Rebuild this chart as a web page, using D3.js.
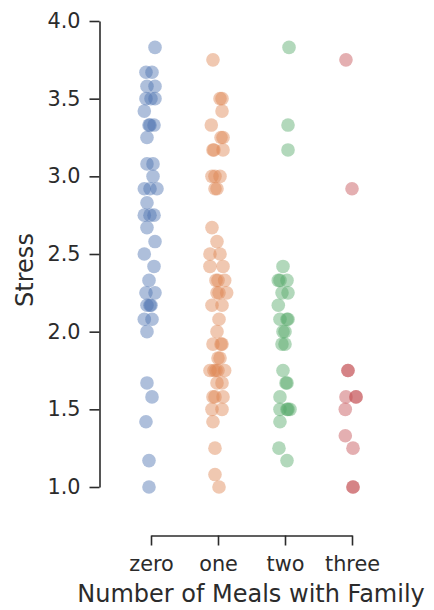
<!DOCTYPE html>
<html>
<head>
<meta charset="utf-8">
<script src="https://cdn.jsdelivr.net/npm/d3@7"></script>
<style>
  html, body { margin: 0; padding: 0; background: #fff; }
  svg { display: block; }
</style>
</head>
<body>
<svg id="chart" width="434" height="610"></svg>
<script>
// Categories and tick labels
const categories = ["zero", "one", "two", "three"];
const yTicks = [1.0, 1.5, 2.0, 2.5, 3.0, 3.5, 4.0];

// Stress scores per category, with the strip jitter (in category units)
const zeroStress = [3.83, 3.67, 3.67, 3.58, 3.58, 3.5, 3.5, 3.5, 3.42, 3.33, 3.33, 3.33, 3.25,
  3.08, 3.08, 3.0, 2.92, 2.92, 2.92, 2.83, 2.75, 2.75, 2.75, 2.67, 2.58, 2.5, 2.42,
  2.33, 2.25, 2.25, 2.17, 2.17, 2.17, 2.08, 2.08, 2.0, 1.67, 1.58, 1.42, 1.17, 1.0];
const zeroJitter = [0.06, -0.075, 0.015, -0.06, 0.06, -0.075, 0, 0.06, -0.10, -0.015, 0.045, -0.03, -0.06,
  -0.06, 0.03, 0.03, -0.10, -0.015, 0.09, -0.06, -0.10, -0.015, 0.045, -0.06, 0.06, -0.10, 0.045,
  -0.03, -0.075, 0.06, -0.06, 0, -0.015, -0.10, 0.015, -0.06, -0.06, 0.015, -0.075, -0.03, -0.03];

const oneStress = [3.75, 3.5, 3.5, 3.42, 3.33, 3.25, 3.25, 3.17, 3.17, 3.17, 3.0, 3.0, 3.0, 2.92, 2.92,
  2.67, 2.58, 2.5, 2.5, 2.42, 2.42, 2.33, 2.33, 2.33, 2.25, 2.25, 2.25, 2.17, 2.17, 2.08, 2.0,
  1.92, 1.92, 1.92, 1.83, 1.83, 1.75, 1.75, 1.75, 1.75, 1.75, 1.67, 1.67, 1.58, 1.58, 1.58,
  1.5, 1.5, 1.42, 1.25, 1.08, 1.0];
const oneJitter = [-0.075, 0.03, 0.06, 0.06, -0.10, 0.045, 0.075, -0.075, -0.06, 0.075, -0.09, 0.03, -0.045, -0.015, -0.045,
  -0.09, -0.015, -0.12, 0.03, -0.12, 0.075, -0.03, 0, 0.10, -0.015, 0.015, 0.13, -0.09, 0.06, 0.015, -0.015,
  -0.075, 0.06, 0.045, 0.03, 0, -0.12, 0, 0.10, -0.06, -0.03, -0.015, 0.06, -0.075, 0.075, -0.045,
  -0.09, 0.06, -0.075, -0.045, -0.045, 0.015];

const twoStress = [3.83, 3.33, 3.17, 2.42, 2.33, 2.33, 2.33, 2.25, 2.25, 2.17, 2.08, 2.08, 2.08, 2.0, 2.0,
  1.92, 1.92, 1.75, 1.67, 1.67, 1.58, 1.5, 1.5, 1.5, 1.5, 1.42, 1.25, 1.17];
const twoJitter = [0.06, 0.045, 0.045, -0.03, -0.10, 0.03, -0.075, -0.045, 0.045, -0.10, 0.03, -0.075, 0.045, 0, -0.03,
  -0.045, 0, -0.03, 0.03, 0.015, -0.075, -0.075, 0.045, 0.075, 0.03, -0.075, -0.09, 0.03];

const threeStress = [3.75, 2.92, 1.75, 1.75, 1.58, 1.58, 1.58, 1.5, 1.33, 1.25, 1.0, 1.0];
const threeJitter = [-0.09, 0, -0.06, -0.06, -0.09, 0.06, 0.06, -0.10, -0.10, 0.015, 0.015, 0.015];

const palette = ["#4c72b0", "#dd8452", "#55a868", "#c44e52"];

const series = [
  { cat: "zero", stress: zeroStress, jitter: zeroJitter },
  { cat: "one", stress: oneStress, jitter: oneJitter },
  { cat: "two", stress: twoStress, jitter: twoJitter },
  { cat: "three", stress: threeStress, jitter: threeJitter }
];

const points = series.flatMap((s, i) =>
  s.stress.map((v, j) => ({ cat: s.cat, value: v, jitter: s.jitter[j], color: palette[i] })));

const svg = d3.select("#chart");
const ink = "#2b2b2b";
const font = "'DejaVu Sans', sans-serif";

const x = d3.scalePoint().domain(categories).range([151, 352]);
const step = x.step();
const y = d3.scaleLinear().domain([1, 4]).range([487, 21]);

// Y axis, trimmed to the data range
const yAxis = svg.append("g")
  .attr("transform", "translate(99.5,0)")
  .call(d3.axisLeft(y).tickValues(yTicks).tickFormat(d3.format(".1f"))
    .tickSize(10).tickSizeOuter(0).tickPadding(9));

// X axis, trimmed to the first and last category
const xAxis = svg.append("g")
  .attr("transform", "translate(0,535.5)")
  .call(d3.axisBottom(x).tickSize(10).tickSizeOuter(0).tickPadding(11));

[yAxis, xAxis].forEach(g => {
  g.selectAll("path.domain").attr("stroke", ink).attr("stroke-width", 1.6);
  g.selectAll(".tick line").attr("stroke", ink).attr("stroke-width", 1.6);
  g.selectAll(".tick text").attr("fill", ink).style("font-family", font).style("font-size", "20.8px");
});

// Strip points
svg.append("g")
  .selectAll("circle")
  .data(points)
  .join("circle")
  .attr("cx", d => x(d.cat) + d.jitter * step)
  .attr("cy", d => y(d.value))
  .attr("r", 6.8)
  .attr("fill", d => d.color)
  .attr("fill-opacity", 0.45);

// Axis titles
svg.append("text")
  .attr("transform", "translate(33,270) rotate(-90)")
  .attr("text-anchor", "middle")
  .attr("fill", ink)
  .style("font-family", font)
  .style("font-size", "24px")
  .text("Stress");

svg.append("text")
  .attr("x", 251)
  .attr("y", 602)
  .attr("text-anchor", "middle")
  .attr("fill", ink)
  .style("font-family", font)
  .style("font-size", "24px")
  .text("Number of Meals with Family");
</script>
</body>
</html>
